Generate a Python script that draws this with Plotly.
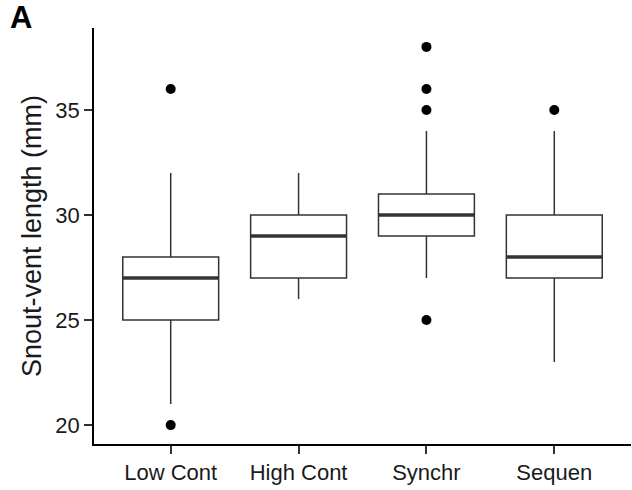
import plotly.graph_objects as go

categories = ["Low Cont", "High Cont", "Synchr", "Sequen"]
lower_whisker = [21, 26, 27, 23]
q1 = [25, 27, 29, 27]
median = [27, 29, 30, 28]
q3 = [28, 30, 31, 30]
upper_whisker = [32, 32, 34, 34]
outliers = [[36, 20], [], [38, 36, 35, 25], [35]]
y_ticks = [20, 25, 30, 35]

positions = list(range(1, len(categories) + 1))
box_width = 0.75
line_col = "#333333"
font_family = "Liberation Sans, Arial, sans-serif"

fig = go.Figure()

for i, cat in enumerate(categories):
    fig.add_trace(go.Box(
        x=[positions[i]],
        q1=[q1[i]], median=[median[i]], q3=[q3[i]],
        lowerfence=[lower_whisker[i]], upperfence=[upper_whisker[i]],
        width=box_width,
        whiskerwidth=0,
        fillcolor="white",
        line=dict(color=line_col, width=1.5),
        boxpoints=False,
        name=cat,
        showlegend=False,
        hoverinfo="skip",
    ))

# thicker median lines
mx, my = [], []
for i in range(len(categories)):
    mx += [positions[i] - box_width / 2, positions[i] + box_width / 2, None]
    my += [median[i], median[i], None]
fig.add_trace(go.Scatter(x=mx, y=my, mode="lines",
                         line=dict(color=line_col, width=3.4),
                         showlegend=False, hoverinfo="skip"))

# outliers
ox, oy = [], []
for i, vals in enumerate(outliers):
    for v in vals:
        ox.append(positions[i])
        oy.append(v)
fig.add_trace(go.Scatter(x=ox, y=oy, mode="markers",
                         marker=dict(color="black", size=10),
                         showlegend=False, hoverinfo="skip"))

fig.update_layout(
    width=632, height=490,
    margin=dict(l=94, r=1, t=28, b=46),
    paper_bgcolor="white", plot_bgcolor="white",
    font=dict(family=font_family, color="#1a1a1a"),
    xaxis=dict(
        range=[0.4, 4.6],
        tickmode="array", tickvals=positions, ticktext=categories,
        showgrid=False, zeroline=False,
        showline=True, linecolor="black", linewidth=1.5,
        ticks="outside", ticklen=8, tickwidth=1.5, tickcolor="#333333",
        tickfont=dict(size=22, color="#1a1a1a"),
    ),
    yaxis=dict(
        range=[19.1, 38.9],
        tickmode="array", tickvals=y_ticks,
        showgrid=False, zeroline=False,
        showline=True, linecolor="black", linewidth=1.5,
        ticks="outside", ticklen=8, tickwidth=1.5, tickcolor="#333333",
        tickfont=dict(size=22, color="#1a1a1a"),
        title=dict(text="Snout-vent length (mm)", font=dict(size=27, color="#1a1a1a"), standoff=6),
    ),
    annotations=[dict(
        text="<b>A</b>", xref="paper", yref="paper",
        x=(20.5 - 94) / 537, y=1 + (28 - 17.5) / 416,
        xanchor="center", yanchor="middle", showarrow=False,
        font=dict(size=31, color="black", family=font_family),
    )],
)

fig.write_html("out.html")
